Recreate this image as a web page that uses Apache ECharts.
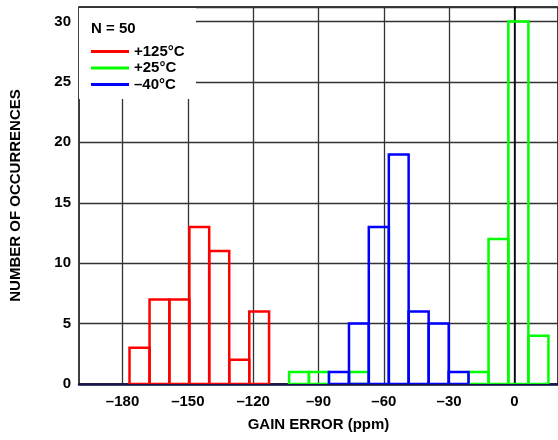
<!DOCTYPE html>
<html>
<head>
<meta charset="utf-8">
<script src="https://cdn.jsdelivr.net/npm/echarts@6/dist/echarts.min.js"></script>
<style>
  html, body { margin: 0; padding: 0; background: #fff; }
  #chart { width: 558px; height: 440px; }
</style>
</head>
<body>
<div id="chart"></div>
<script>
// bin edges (ppm)
var binEdges = [-176.8, -167.6, -158.5, -149.3, -140.2, -131.0, -121.8, -112.7,
                -103.5, -94.4, -85.2, -76.0, -66.9, -57.7, -48.6, -39.4,
                -30.2, -21.1, -11.9, -2.8, 6.4, 15.6];
// counts per bin, index into binEdges (bin i = [edge i, edge i+1])
var hot = [3, 7, 7, 13, 11, 2, 6, 0, 0, 0, 0, 0, 0, 0, 0, 0, 0, 0, 0, 0, 0];
var room = [0, 0, 0, 0, 0, 0, 0, 0, 1, 1, 0, 1, 0, 0, 0, 0, 0, 1, 12, 30, 4];
var cold = [0, 0, 0, 0, 0, 0, 0, 0, 0, 0, 1, 5, 13, 19, 6, 5, 1, 0, 0, 0, 0];
var xTicks = [-180, -150, -120, -90, -60, -30, 0];
var seriesNames = ['+125°C', '+25°C', '\u201340°C'];
var seriesColors = ['#ff0000', '#00ff00', '#0000ff'];

var FONT = '"Liberation Sans", Arial, sans-serif';

function toBins(counts) {
  var out = [];
  for (var i = 0; i < counts.length; i++) {
    if (counts[i] > 0) out.push([binEdges[i], binEdges[i + 1], counts[i]]);
  }
  return out;
}

function histSeries(name, counts, color, z) {
  return {
    name: name,
    type: 'custom',
    z: z,
    clip: true,
    data: toBins(counts),
    encode: { x: [0, 1], y: 2 },
    renderItem: function (params, api) {
      var p0 = api.coord([api.value(0), api.value(2)]);
      var p1 = api.coord([api.value(1), 0]);
      return {
        type: 'rect',
        shape: { x: p0[0], y: p0[1], width: p1[0] - p0[0], height: p1[1] - p0[1] },
        style: { fill: 'none', stroke: color, lineWidth: 2.5 }
      };
    }
  };
}

var chart = echarts.init(document.getElementById('chart'));
chart.setOption({
  animation: false,
  color: seriesColors,
  grid: {
    left: 78, top: 7, right: 0, bottom: 56,
    show: true, borderColor: '#000', borderWidth: 1.5
  },
  legend: {
    orient: 'vertical',
    left: 86, top: 39,
    itemWidth: 38, itemHeight: 3, itemGap: 1.5,
    icon: 'rect',
    data: seriesNames,
    textStyle: { fontFamily: FONT, fontWeight: 'bold', fontSize: 15, color: '#000' }
  },
  graphic: [
    { type: 'rect', z: 3, shape: { x: 79, y: 8, width: 117, height: 91 }, style: { fill: '#fff' } },
    { type: 'text', z: 5, left: 91, top: 21,
      style: { text: 'N = 50', font: 'bold 15px ' + FONT, fill: '#000' } }
  ],
  xAxis: {
    type: 'value',
    min: -200, max: 20,
    name: 'GAIN ERROR (ppm)',
    nameLocation: 'middle', nameGap: 33,
    nameTextStyle: { fontFamily: FONT, fontWeight: 'bold', fontSize: 15, color: '#000' },
    axisLine: { onZero: false, lineStyle: { color: '#14144a', width: 2.5 } },
    axisTick: { show: false, customValues: xTicks },
    axisLabel: {
      customValues: xTicks, margin: 10,
      fontFamily: FONT, fontWeight: 'bold', fontSize: 15, color: '#000',
      formatter: function (v) { return String(v).replace('-', '\u2013'); }
    },
    splitLine: { show: true, lineStyle: { color: '#333', width: 1.3 } }
  },
  yAxis: {
    type: 'value',
    min: 0, max: 31.2, interval: 5,
    name: 'NUMBER OF OCCURRENCES',
    nameLocation: 'middle', nameGap: 56,
    nameTextStyle: { fontFamily: FONT, fontWeight: 'bold', fontSize: 15, color: '#000' },
    axisLine: { show: true, lineStyle: { color: '#000', width: 1.5 } },
    axisTick: { show: false },
    axisLabel: {
      showMaxLabel: false, margin: 8,
      fontFamily: FONT, fontWeight: 'bold', fontSize: 15, color: '#000'
    },
    splitLine: { show: true, lineStyle: { color: '#333', width: 1.3 } }
  },
  series: [
    histSeries(seriesNames[0], hot, seriesColors[0], 2),
    histSeries(seriesNames[1], room, seriesColors[1], 3),
    histSeries(seriesNames[2], cold, seriesColors[2], 4)
  ]
});
</script>
</body>
</html>
